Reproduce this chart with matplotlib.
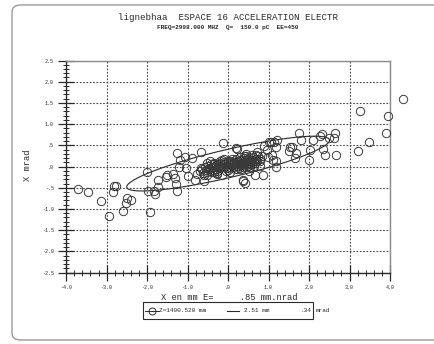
import matplotlib
matplotlib.use("Agg")
import matplotlib.pyplot as plt
import numpy as np
from matplotlib.patches import FancyBboxPatch, Rectangle
from matplotlib.lines import Line2D

# ---------------- data ----------------
title = "lignebhaa  ESPACE 16 ACCELERATION ELECTR"
subtitle = "FREQ=2998.000 MHZ  Q=  150.0 pC  EE=450"
xlabel = "X en mm E=     .85 mm.nrad"
ylabel = "X mrad"
legend_z = "Z=1490.520 mm"
legend_size = "2.51 mm"
legend_div = ".34"
legend_unit = "mrad"

x_ticks = [-4, -3, -2, -1, 0, 1, 2, 3, 4]
x_ticklabels = ["-4.0", "-3.0", "-2.0", "-1.0", ".0", "1.0", "2.0", "3.0", "4.0"]
y_ticks = [2.5, 2.0, 1.5, 1.0, 0.5, 0.0, -0.5, -1.0, -1.5, -2.0, -2.5]
y_ticklabels = ["2.5", "2.0", "1.5", "1.0", ".5", ".0", "-.5", "-1.0", "-1.5", "-2.0", "-2.5"]

# emittance ellipse parameters
emittance = 0.85      # mm.mrad
x_max = 2.51          # mm
xp_at_x0 = 0.34       # mrad
alpha_twiss = -1.62
center_x = 0.0
center_y = 0.07

# particles (x mm, x' mrad)
outer_x = [-3.70, -3.47, -3.13, -2.94, -2.84, -2.81, -2.76, -2.59, -2.53, -2.51, -2.40,
           -2.00, -1.98, -1.93, -1.83, -1.81, -1.72, -1.73, -1.54, -1.51, -1.36, -1.32,
           -1.29, -1.27, -1.27, -1.22, -1.18, -1.07, -1.03, -1.00, -0.88, -0.83, -0.78,
           -0.68, -0.66, -0.60, -0.53, -0.46, -0.40, -0.34, -0.27, -0.21, -0.14, -0.12,
           0.00, 0.12, 0.19, 0.29, 0.37, 0.41, 0.45,
           4.32, 3.25, 3.94, 3.89, 3.48, 3.22, 2.66, 2.64, 2.61, 2.49, 2.33, 2.28, 2.39,
           2.35, 2.10, 2.03, 1.99, 1.81, 1.74, 1.67, 1.65, 1.57, 1.51, 1.53, 1.21, 1.19,
           1.14, 1.06, 1.01, 1.09, 1.19, 1.19, 1.11, 0.88, 0.86, 0.66, 0.37, 0.21, 0.96,
           0.98, 0.84, 0.80, 0.79, 0.72, 0.68, 0.60, 0.55, 0.51, 0.47, 0.43, 0.31, 0.23]
outer_y = [-0.53, -0.60, -0.82, -1.16, -0.60, -0.46, -0.46, -1.05, -0.86, -0.73, -0.79,
           -0.13, -0.57, -1.08, -0.57, -0.64, -0.49, -0.31, -0.25, -0.21, -0.18, -0.27,
           -0.41, -0.57, 0.32, 0.00, 0.16, 0.22, -0.04, -0.22, 0.21, -0.31, -0.17,
           0.35, -0.03, -0.35, -0.20, -0.05, -0.12, 0.06, -0.17, 0.00, -0.21, 0.55,
           0.13, 0.09, 0.43, 0.15, -0.31, -0.39, 0.24,
           1.59, 1.32, 1.18, 0.80, 0.59, 0.36, 0.28, 0.79, 0.67, 0.67, 0.77, 0.72, 0.28,
           0.41, 0.63, 0.38, 0.16, 0.63, 0.80, 0.32, 0.20, 0.46, 0.36, 0.47, 0.63, 0.46,
           0.59, 0.59, 0.59, 0.28, 0.12, 0.00, 0.16, 0.49, -0.20, -0.20, -0.35, 0.41, 0.38,
           0.22, 0.26, 0.14, 0.02, 0.34, 0.18, 0.06, -0.02, -0.10, 0.18, 0.30, -0.06, -0.06]
core_x = [-0.70, -0.65, -0.62, -0.58, -0.55, -0.52, -0.50, -0.48, -0.45, -0.42, -0.40, -0.38,
          -0.35, -0.33, -0.31, -0.29, -0.27, -0.25, -0.23, -0.21, -0.19, -0.17, -0.15, -0.13,
          -0.11, -0.09, -0.07, -0.05, -0.03, -0.01, 0.01, 0.03, 0.05, 0.07, 0.09, 0.11, 0.13,
          0.15, 0.17, 0.19, 0.21, 0.23, 0.25, 0.27, 0.29, 0.31, 0.33, 0.35, 0.37, 0.39, 0.41,
          0.43, 0.45, 0.47, 0.49, 0.51, 0.53, 0.55, 0.57, 0.59, 0.61, 0.63, 0.66, 0.69, 0.72,
          0.75, 0.78, -0.60, -0.44, -0.28, -0.14, 0.00, 0.16, 0.30, 0.44, 0.58, 0.20, -0.06,
          0.10, 0.36, 0.50, -0.20, -0.36, 0.26, 0.64, 0.70, 0.40, -0.10, 0.05, -0.52]
core_y = [-0.10, -0.05, -0.15, 0.00, -0.08, -0.12, 0.02, -0.04, -0.10, 0.05, -0.02, -0.07,
          0.08, 0.00, -0.05, 0.03, -0.10, 0.06, 0.01, -0.04, 0.09, 0.03, -0.02, 0.05,
          0.11, 0.00, 0.07, 0.02, -0.03, 0.10, 0.05, 0.00, 0.08, 0.13, 0.03, 0.07, -0.02,
          0.11, 0.05, 0.09, 0.01, 0.14, 0.07, 0.11, 0.03, 0.16, 0.09, 0.05, 0.13, 0.19, 0.08,
          0.12, 0.03, 0.15, 0.09, 0.20, 0.12, 0.06, 0.16, 0.10, 0.22, 0.14, 0.08, 0.18, 0.12,
          0.25, 0.17, -0.20, 0.12, -0.15, 0.15, -0.08, -0.06, 0.22, -0.02, 0.28, 0.17, -0.10,
          0.18, -0.01, 0.02, 0.12, -0.14, -0.03, 0.02, 0.27, 0.25, 0.17, -0.12, 0.08]

# ---------------- figure ----------------
W, H = 434, 344
fig = plt.figure(figsize=(W / 100, H / 100), dpi=100)
fig.patch.set_facecolor("white")
mono = "Liberation Mono"
ink = "#2a2a2a"

# page border (scanned sheet): left edge x=12, top y=5, bottom y=340, right beyond image
page = FancyBboxPatch((12 / W, 4 / H), 460 / W, 335 / H, boxstyle="round,pad=0,rounding_size=0.02",
                      transform=fig.transFigure, fill=False, edgecolor="#9a9a9a", linewidth=1.0,
                      clip_on=False)
fig.patches.append(page)

left, right, top, bottom = 66.2, 390.0, 60.5, 272.6
ax = fig.add_axes([left / W, 1 - bottom / H, (right - left) / W, (bottom - top) / H])
ax.set_xlim(-4, 4)
ax.set_ylim(-2.5, 2.5)

ax.set_xticks(x_ticks)
ax.set_xticklabels(x_ticklabels)
ax.set_yticks(y_ticks)
ax.set_yticklabels(y_ticklabels)
ax.set_xticks(np.arange(-4, 4.01, 0.2), minor=True)
ax.set_yticks(np.arange(-2.5, 2.51, 0.1), minor=True)
ax.tick_params(which="major", direction="inout", length=12, width=0.9, colors=ink,
               labelsize=3.6, pad=3)
ax.tick_params(which="minor", direction="inout", length=5, width=0.7, colors=ink)
for lab in ax.get_xticklabels() + ax.get_yticklabels():
    lab.set_family(mono)

ax.grid(True, which="major", linestyle=(0, (1.5, 1.5)), color="#444444", linewidth=0.8)
for side in ["left", "bottom"]:
    ax.spines[side].set_color(ink)
    ax.spines[side].set_linewidth(1.0)
for side in ["top", "right"]:
    ax.spines[side].set_color("#8a8a8a")
    ax.spines[side].set_linewidth(1.0)

# ellipse from Twiss-like parameters
beta = x_max / xp_at_x0
t = np.linspace(0, 2 * np.pi, 400)
ex = center_x + np.sqrt(emittance * beta) * np.cos(t)
ey = center_y + np.sqrt(emittance / beta) * (-alpha_twiss * np.cos(t) - np.sin(t))
ax.plot(ex, ey, color=ink, linewidth=0.8, zorder=3)

ax.plot(core_x + outer_x, core_y + outer_y, linestyle="none", marker="o", markersize=6,
        markerfacecolor="none", markeredgecolor="#3a3a3a", markeredgewidth=0.7,
        clip_on=False, zorder=4)

# texts
fig.text(228 / W, 1 - 17 / H, title, family=mono, fontsize=6.6, color=ink, ha="center", va="center")
fig.text(228 / W, 1 - 28 / H, subtitle, family=mono, fontsize=4.4, color=ink, ha="center",
         va="center", weight="bold")
fig.text(229 / W, 1 - 298 / H, xlabel, family=mono, fontsize=6.3, color=ink, ha="center", va="center")
fig.text(28 / W, 1 - 165 / H, ylabel, family=mono, fontsize=6.3, color=ink, ha="center",
         va="center", rotation=90)

# legend box
box = Rectangle((143 / W, 1 - 319 / H), (313 - 143) / W, (319 - 302) / H, transform=fig.transFigure,
                fill=False, edgecolor=ink, linewidth=0.8)
fig.patches.append(box)
ly = 1 - 310.5 / H
fig.lines.append(Line2D([145 / W, 159 / W], [ly, ly], transform=fig.transFigure, color=ink,
                        linewidth=0.7))
fig.lines.append(Line2D([152 / W], [ly], transform=fig.transFigure, marker="o", markersize=5,
                        markerfacecolor="none", markeredgecolor=ink, markeredgewidth=0.7,
                        linestyle="none"))
fig.text(159 / W, ly, legend_z, family=mono, fontsize=4.4, color=ink, ha="left", va="center")
fig.lines.append(Line2D([227 / W, 239 / W], [ly, ly], transform=fig.transFigure, color=ink,
                        linewidth=0.8))
fig.text(244 / W, ly, legend_size, family=mono, fontsize=4.4, color=ink, ha="left", va="center")
fig.text(311 / W, ly, legend_div, family=mono, fontsize=4.4, color=ink, ha="right", va="center")
fig.text(316 / W, ly, legend_unit, family=mono, fontsize=4.4, color=ink, ha="left", va="center")

fig.savefig("out.png", dpi=100)
